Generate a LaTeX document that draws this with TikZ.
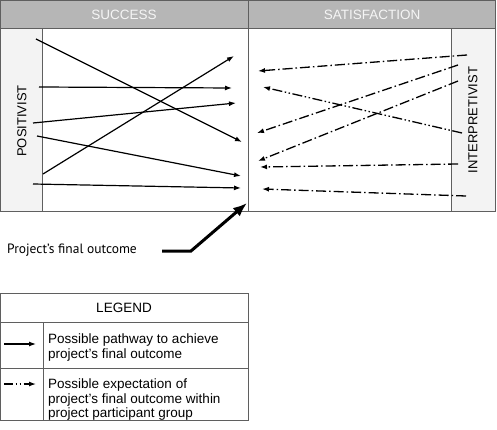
\documentclass[tikz,border=0pt]{standalone}
\usepackage{fontspec}
\setmainfont{Liberation Sans}
\newfontfamily\labfont{PT Sans}
\usetikzlibrary{arrows.meta}
\definecolor{hdrgray}{RGB}{182,182,182}
\definecolor{stripgray}{RGB}{243,243,243}
\definecolor{linegray}{RGB}{95,95,95}
\definecolor{hdrtext}{RGB}{245,245,245}
\begin{document}
\begin{tikzpicture}[x=1pt,y=-1pt,
  frame/.style={draw=linegray,line width=1pt},
  hdr/.style={font=\fontsize{13.5}{15}\selectfont,text=hdrtext},
  side/.style={font=\fontsize{13}{15}\selectfont,rotate=90},
  path/.style={line width=1.2pt,-{Latex[length=7pt,width=5pt]}},
  expect/.style={line width=1.3pt,-{Latex[length=7pt,width=5pt]},dash pattern=on 10pt off 3pt on 1.5pt off 3pt},
  expecttwo/.style={line width=1.3pt,-{Latex[length=7pt,width=5pt]},dash pattern=on 10pt off 2.5pt on 1.5pt off 2.5pt on 1.5pt off 2.5pt},
  legtext/.style={font=\fontsize{13.5}{14.5}\selectfont,align=left,anchor=north west,inner sep=0pt}
]
\useasboundingbox (0,0) rectangle (497,430);
% headers and strips
\fill[hdrgray] (0,0) rectangle (495,29);
\fill[stripgray] (0,29) rectangle (42,211);
\fill[stripgray] (451,29) rectangle (495,211);
\draw[frame] (0.5,0.5) rectangle (495,211);
\draw[frame] (0,29) -- (495,29);
\draw[frame] (248,0) -- (248,211);
\draw[frame] (42,29) -- (42,211);
\draw[frame] (451,29) -- (451,211);
\node[hdr] (succ) at (124,15) {SUCCESS};
\node[hdr] (satis) at (372,15) {SATISFACTION};
\node[side] (posit) at (22,121) {POSITIVIST};
\node[side] (interp) at (473,120) {INTERPRETIVIST};
% solid pathways
\coordinate (s1a) at (36,39);  \coordinate (s1b) at (242,142);
\coordinate (s2a) at (39,87);  \coordinate (s2b) at (232,88);
\coordinate (s3a) at (33,123); \coordinate (s3b) at (236,103);
\coordinate (s4a) at (37,136); \coordinate (s4b) at (241,176);
\coordinate (s5a) at (43,174); \coordinate (s5b) at (234,56);
\coordinate (s6a) at (33,184); \coordinate (s6b) at (241,188);
\draw[path] (s1a) -- (s1b);
\draw[path] (s2a) -- (s2b);
\draw[path] (s3a) -- (s3b);
\draw[path] (s4a) -- (s4b);
\draw[path] (s5a) -- (s5b);
\draw[path] (s6a) -- (s6b);
% expectations
\coordinate (e1a) at (467,55);  \coordinate (e1b) at (258,71);
\coordinate (e2a) at (458,65);  \coordinate (e2b) at (257,133);
\coordinate (e3a) at (458,81);  \coordinate (e3b) at (258,161);
\coordinate (e4a) at (462,133); \coordinate (e4b) at (263,87);
\coordinate (e5a) at (458,164); \coordinate (e5b) at (260,167);
\coordinate (e6a) at (466,196); \coordinate (e6b) at (262,189);
\draw[expect] (e1a) -- (e1b);
\draw[expect] (e2a) -- (e2b);
\draw[expect] (e3a) -- (e3b);
\draw[expecttwo] (e4a) -- (e4b);
\draw[expect] (e5a) -- (e5b);
\draw[expect] (e6a) -- (e6b);
% final outcome
\node[font=\labfont\fontsize{13.5}{15}\selectfont,anchor=base west,inner sep=0pt] (fo) at (7,253) {Project’s final outcome};
\coordinate (foa) at (162,251);
\coordinate (fob) at (191,251);
\coordinate (foc) at (247,203);
\draw[line width=3pt,-{Latex[length=14pt,width=11pt]}] (foa) -- (fob) -- (foc);
% legend
\draw[frame] (0.5,293) rectangle (248,420);
\draw[frame] (0.5,322) -- (248,322);
\draw[frame] (0.5,368) -- (248,368);
\draw[frame] (43,322) -- (43,420);
\node[font=\fontsize{13.5}{15}\selectfont] (leg) at (124,307.5) {LEGEND};
\coordinate (l1a) at (4,344); \coordinate (l1b) at (36,344);
\coordinate (l2a) at (4,384); \coordinate (l2b) at (36,384);
\draw[line width=1.2pt,-{Latex[length=7pt,width=5pt]}] (l1a) -- (l1b);
\draw[line width=1.3pt,-{Latex[length=7pt,width=5pt]},dash pattern=on 9pt off 2.5pt on 1.5pt off 2.5pt on 1.5pt off 2.5pt] (l2a) -- (l2b);
\node[legtext] (lt1) at (48,334) {Possible pathway to achieve\\project’s final outcome};
\node[legtext] (lt2) at (48,379) {Possible expectation of\\project’s final outcome within\\project participant group};
\end{tikzpicture}
\end{document}
